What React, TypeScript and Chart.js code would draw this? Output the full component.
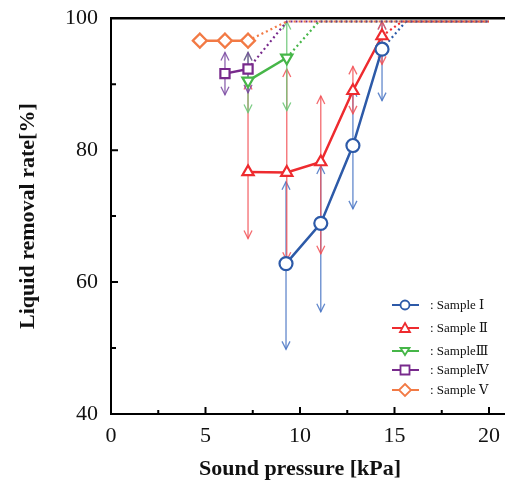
import React, { useEffect, useRef } from "react";
import { Chart, registerables } from "chart.js";

Chart.register(...registerables);

// ---- data ----
const xTickValues = [0, 5, 10, 15, 20];
const yTickValues = [40, 60, 80, 100];

const s1X = [9.26, 11.1, 12.8, 14.34];
const s1Y = [62.8, 68.9, 80.7, 95.3];
const s1Hi = [75.2, 77.6, 89.3, 99.5];
const s1Lo = [49.8, 55.5, 71.1, 87.5];
const s1DotX = [14.34, 15.6, 20];
const s1DotY = [95.3, 99.5, 99.5];

const s2X = [7.25, 9.3, 11.1, 12.8, 14.34];
const s2Y = [76.7, 76.6, 78.2, 89.0, 97.3];
const s2Hi = [90.4, 92.3, 88.2, 92.7, 99.5];
const s2Lo = [66.6, 63.3, 64.3, 85.5, 93.0];
const s2DotX = [14.34, 15.4, 20];
const s2DotY = [97.3, 99.5, 99.5];

const s3X = [7.25, 9.3];
const s3Y = [90.5, 94.0];
const s3Hi = [94.8, 99.5];
const s3Lo = [85.7, 86.0];
const s3DotX = [9.3, 11.0, 20];
const s3DotY = [94.0, 99.5, 99.5];

const s4X = [6.03, 7.25];
const s4Y = [91.6, 92.3];
const s4Hi = [94.8, 94.8];
const s4Lo = [88.4, 88.7];
const s4DotX = [7.25, 9.3, 20];
const s4DotY = [92.3, 99.5, 99.5];

const s5X = [4.7, 6.03, 7.25];
const s5Y = [96.6, 96.6, 96.6];
const s5Hi = [97.8, 97.8, 97.8];
const s5Lo = [95.4, 95.4, 95.4];
const s5DotX = [7.25, 9.3, 20];
const s5DotY = [96.6, 99.5, 99.5];

const sampleLabels = [": Sample \u2160", ": Sample \u2161", ": Sample\u2162", ": Sample\u2163", ": Sample \u2164"];

const colors = ["#2d5aa8", "#ee2b2f", "#46b648", "#782a8c", "#f27a45"];
const barColors = ["rgba(70,115,195,0.85)", "rgba(242,80,85,0.85)", "rgba(110,200,120,0.9)", "rgba(120,70,160,0.85)", "rgba(242,130,80,0.9)"];
const pointStyles = ["circle", "triangle", "triangle", "rect", "rectRot"];
const rotations = [0, 0, 180, 0, 0];

const zip = (xs: number[], ys: number[]) => xs.map((x, i) => ({ x, y: ys[i] }));

const series = [
  { x: s1X, y: s1Y, hi: s1Hi, lo: s1Lo, dx: s1DotX, dy: s1DotY, heads: true },
  { x: s2X, y: s2Y, hi: s2Hi, lo: s2Lo, dx: s2DotX, dy: s2DotY, heads: true },
  { x: s3X, y: s3Y, hi: s3Hi, lo: s3Lo, dx: s3DotX, dy: s3DotY, heads: true },
  { x: s4X, y: s4Y, hi: s4Hi, lo: s4Lo, dx: s4DotX, dy: s4DotY, heads: true },
  { x: s5X, y: s5Y, hi: s5Hi, lo: s5Lo, dx: s5DotX, dy: s5DotY, heads: false },
];

const errorBarPlugin = {
  id: "errorBars",
  beforeDatasetsDraw(chart: any) {
    const { ctx, scales } = chart;
    const xs = scales.x;
    const ys = scales.y;
    ctx.save();
    series.forEach((s, si) => {
      ctx.strokeStyle = barColors[si];
      ctx.lineWidth = 1.3;
      s.x.forEach((xv, i) => {
        const px = xs.getPixelForValue(xv);
        const top = ys.getPixelForValue(s.hi[i]);
        const bot = ys.getPixelForValue(s.lo[i]);
        ctx.beginPath();
        ctx.moveTo(px, top);
        ctx.lineTo(px, bot);
        ctx.stroke();
        if (s.heads) {
          ctx.beginPath();
          ctx.moveTo(px - 4, top + 8);
          ctx.lineTo(px, top);
          ctx.lineTo(px + 4, top + 8);
          ctx.moveTo(px - 4, bot - 8);
          ctx.lineTo(px, bot);
          ctx.lineTo(px + 4, bot - 8);
          ctx.stroke();
        }
      });
    });
    ctx.restore();
  },
  afterDraw(chart: any) {
    const { ctx, chartArea, scales, width } = chart;
    const xs = scales.x;
    const ys = scales.y;
    ctx.save();
    ctx.strokeStyle = "#000";
    ctx.lineCap = "butt";
    // axes
    ctx.lineWidth = 2;
    ctx.beginPath();
    ctx.moveTo(chartArea.left, chartArea.top);
    ctx.lineTo(chartArea.left, chartArea.bottom);
    ctx.moveTo(chartArea.left - 1, chartArea.bottom);
    ctx.lineTo(width, chartArea.bottom);
    ctx.stroke();
    ctx.lineWidth = 2.5;
    ctx.beginPath();
    ctx.moveTo(chartArea.left - 1, chartArea.top);
    ctx.lineTo(width, chartArea.top);
    ctx.stroke();
    // ticks
    ctx.lineWidth = 2;
    ctx.beginPath();
    for (let v = 50; v < 100; v += 10) {
      const py = ys.getPixelForValue(v);
      const len = v % 20 === 0 ? 7 : 5;
      ctx.moveTo(chartArea.left, py);
      ctx.lineTo(chartArea.left + len, py);
    }
    for (let v = 2.5; v <= 20; v += 2.5) {
      const px = xs.getPixelForValue(v);
      const len = v % 5 === 0 ? 7 : 4;
      ctx.moveTo(px, chartArea.bottom);
      ctx.lineTo(px, chartArea.bottom - len);
    }
    ctx.stroke();

    // legend
    const rowsY = [305, 328, 351, 370, 390];
    const lx0 = 392;
    const lx1 = 419;
    const mx = 405;
    ctx.font = "13px 'Liberation Serif', 'DejaVu Serif', serif";
    ctx.textBaseline = "middle";
    ctx.textAlign = "left";
    rowsY.forEach((ry, i) => {
      ctx.strokeStyle = colors[i];
      ctx.lineWidth = 2;
      ctx.beginPath();
      ctx.moveTo(lx0, ry);
      ctx.lineTo(lx1, ry);
      ctx.stroke();
      ctx.fillStyle = "#fff";
      ctx.lineWidth = 1.8;
      ctx.beginPath();
      const r = 4.5;
      if (i === 0) {
        ctx.arc(mx, ry, r, 0, Math.PI * 2);
      } else if (i === 1) {
        ctx.moveTo(mx, ry - r - 0.5);
        ctx.lineTo(mx + r + 0.5, ry + r - 0.5);
        ctx.lineTo(mx - r - 0.5, ry + r - 0.5);
        ctx.closePath();
      } else if (i === 2) {
        ctx.moveTo(mx, ry + r - 0.5);
        ctx.lineTo(mx + r, ry - r + 1.5);
        ctx.lineTo(mx - r, ry - r + 1.5);
        ctx.closePath();
      } else if (i === 3) {
        ctx.rect(mx - r, ry - r, 2 * r, 2 * r);
      } else {
        ctx.moveTo(mx, ry - r - 1.5);
        ctx.lineTo(mx + r + 1.5, ry);
        ctx.lineTo(mx, ry + r + 1.5);
        ctx.lineTo(mx - r - 1.5, ry);
        ctx.closePath();
      }
      ctx.fill();
      ctx.stroke();
      ctx.fillStyle = "#111";
      ctx.fillText(sampleLabels[i], 430, ry + 1);
    });
    ctx.restore();
  },
};

export default function App() {
  const ref = useRef<HTMLCanvasElement | null>(null);
  useEffect(() => {
    if (!ref.current) return;
    const datasets: any[] = [];
    series.forEach((s, si) => {
      datasets.push({
        label: sampleLabels[si],
        data: zip(s.x, s.y),
        showLine: true,
        borderColor: colors[si],
        backgroundColor: "#fff",
        borderWidth: 2.5,
        pointStyle: pointStyles[si],
        rotation: rotations[si],
        pointRadius: si === 4 ? 7 : 6.5,
        pointBorderWidth: 2.2,
        pointBackgroundColor: "#fff",
        pointBorderColor: colors[si],
        order: 1,
      });
    });
    series.forEach((s, si) => {
      datasets.push({
        label: "dotted" + si,
        data: zip(s.dx, s.dy),
        showLine: true,
        borderColor: colors[si],
        borderWidth: 2.2,
        borderDash: [2, 3],
        pointRadius: 0,
        order: 2 + (4 - si),
      });
    });

    const chart = new Chart(ref.current, {
      type: "scatter",
      data: { datasets },
      options: {
        animation: false,
        responsive: false,
        layout: { padding: { top: 8, right: 16, left: 0, bottom: 0 } },
        plugins: { legend: { display: false }, tooltip: { enabled: false } },
        scales: {
          x: {
            type: "linear",
            min: 0,
            max: 20,
            grid: { display: false },
            border: { display: false },
            afterBuildTicks: (sc: any) => {
              sc.ticks = xTickValues.map((v) => ({ value: v }));
            },
            afterFit: (sc: any) => {
              sc.height = 71;
            },
            ticks: {
              padding: 1,
              color: "#111",
              font: { family: "'Liberation Serif', serif", size: 22 },
              maxRotation: 0,
              autoSkip: false,
            },
            title: {
              display: true,
              text: "Sound pressure [kPa]",
              color: "#111",
              font: { family: "'Liberation Serif', serif", size: 22, weight: "bold" },
              padding: { top: 0, bottom: 2 },
            },
          },
          y: {
            type: "linear",
            min: 40,
            max: 100,
            grid: { display: false },
            border: { display: false },
            afterBuildTicks: (sc: any) => {
              sc.ticks = yTickValues.map((v) => ({ value: v }));
            },
            afterFit: (sc: any) => {
              sc.width = 111;
            },
            ticks: {
              padding: 5,
              color: "#111",
              font: { family: "'Liberation Serif', serif", size: 22 },
              autoSkip: false,
            },
            title: {
              display: true,
              text: "Liquid removal rate[%]",
              color: "#111",
              font: { family: "'Liberation Serif', serif", size: 22, weight: "bold" },
              padding: { top: 15, bottom: 0 },
            },
          },
        },
      },
      plugins: [errorBarPlugin],
    } as any);
    return () => chart.destroy();
  }, []);

  return (
    <div style={{ position: "absolute", left: 0, top: 0, width: 505, height: 485, background: "#fff" }}>
      <canvas ref={ref} width={505} height={485} style={{ width: 505, height: 485 }} />
    </div>
  );
}
